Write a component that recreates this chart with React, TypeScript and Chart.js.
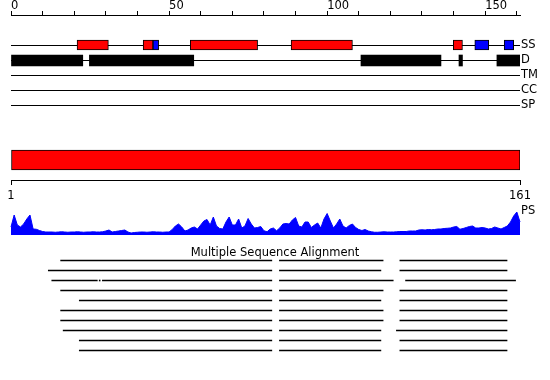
import React, { useEffect, useRef } from 'react';
import { Chart, registerables } from 'chart.js';

Chart.register(...registerables);

// ---------- data ----------
const SEQ_LENGTH = 161;
const TOP_TICKS = [0, 10, 20, 30, 40, 50, 60, 70, 80, 90, 100, 110, 120, 130, 140, 150, 160];
const TOP_LABELS = [0, 50, 100, 150];
const RANGE_LABELS = ['1', '161'];
const TRACKS = ['SS', 'D', 'TM', 'CC', 'SP'];
const PROFILE_LABEL = 'PS';
const MSA_TITLE = 'Multiple Sequence Alignment';

// secondary structure: helix (red) and strand (blue) ranges
const HELIX = [[20.9, 30.8], [41.8, 44.9], [56.7, 78.0], [88.6, 108.0], [139.9, 142.8]];
const STRAND = [[44.9, 46.7], [146.7, 151.1], [156.0, 159.0]];
// disorder ranges
const DISORDER = [[0, 22.7], [24.8, 57.8], [110.7, 136.0], [141.7, 142.8], [153.7, 161]];
// domain ranges
const DOMAINS = [[0, 161]];

// PS profile, one value per position 0..162
const PS_VALUES = [
  0.32, 0.80, 0.40, 0.32, 0.44, 0.64, 0.80, 0.24, 0.23, 0.18, 0.14, 0.12, 0.12,
  0.12, 0.11, 0.12, 0.13, 0.12, 0.11, 0.12, 0.12, 0.13, 0.12, 0.11, 0.12, 0.12, 0.13, 0.12, 0.12, 0.13,
  0.16, 0.20, 0.12, 0.14, 0.16, 0.18, 0.20, 0.12, 0.08,
  0.10, 0.11, 0.12, 0.12, 0.11, 0.12, 0.13, 0.12, 0.12, 0.11, 0.12,
  0.12, 0.22, 0.36, 0.44, 0.32, 0.16, 0.20, 0.28, 0.32, 0.24,
  0.40, 0.56, 0.62, 0.40, 0.72, 0.36, 0.26, 0.24, 0.52, 0.72,
  0.40, 0.40, 0.64, 0.28, 0.36, 0.66, 0.44, 0.28, 0.30, 0.34,
  0.17, 0.13, 0.24, 0.28, 0.17, 0.28, 0.44, 0.46, 0.44, 0.60,
  0.70, 0.36, 0.32, 0.52, 0.52, 0.30, 0.40, 0.48, 0.28, 0.64,
  0.86, 0.56, 0.28, 0.44, 0.64, 0.36, 0.28, 0.38, 0.44, 0.30,
  0.22, 0.18, 0.22, 0.16, 0.13, 0.11, 0.11, 0.12, 0.13, 0.12,
  0.12, 0.12, 0.13, 0.14, 0.14, 0.14, 0.16, 0.16, 0.16, 0.20,
  0.21, 0.20, 0.22, 0.21, 0.22, 0.24, 0.24, 0.26, 0.27, 0.28,
  0.32, 0.34, 0.23, 0.26, 0.30, 0.34, 0.36, 0.28, 0.28, 0.30,
  0.28, 0.24, 0.26, 0.32, 0.28, 0.24, 0.30, 0.36, 0.52, 0.76,
  0.92, 0.52, 0.06,
];

// multiple sequence alignment: aligned segments per row
const MSA_ROWS = [
  [[15.7, 82.5], [84.9, 117.7], [123.0, 156.9]],
  [[11.8, 82.5], [84.9, 117.0], [123.0, 156.9]],
  [[12.9, 27.3], [27.9, 28.2], [28.9, 82.5], [84.9, 120.9], [124.8, 159.6]],
  [[15.7, 82.5], [84.9, 117.7], [123.0, 156.9]],
  [[21.6, 82.5], [84.9, 117.0], [123.0, 156.9]],
  [[15.7, 82.5], [84.9, 117.7], [123.0, 156.9]],
  [[15.7, 82.5], [84.9, 117.7], [123.0, 156.9]],
  [[16.5, 82.5], [84.9, 117.0], [121.9, 156.9]],
  [[21.6, 82.5], [84.9, 117.0], [123.0, 156.9]],
  [[21.6, 82.5], [84.9, 117.0], [123.0, 156.9]],
];

// ---------- layout (y units of the track scale, 5px each) ----------
const TRACK_MAX = 73;
const ROW_Y: Record<string, number> = { SS: 6, D: 9, TM: 12, CC: 15, SP: 18 };
const D_BAR_Y = 9.1;
const DOMAIN_Y = 29;
const RANGE_AXIS_Y = 33;
const PS_LABEL_Y = 39.2;
const MSA_TITLE_Y = 44.6;
const MSA_Y0 = 49.1;
const MSA_STEP = 2;
const TITLE_X = 83.5;

const RED = '#ff0000';
const BLUE = '#0000ff';
const BLACK = '#000000';

function rangeBars(label: string, ranges: number[][], y: number, color: string, thickness: number, border: number) {
  return {
    type: 'bar' as const,
    label,
    indexAxis: 'y' as const,
    grouped: false,
    xAxisID: 'x',
    yAxisID: 'y',
    data: ranges.map(([a, b]) => ({ x: [a, b], y })),
    backgroundColor: color,
    borderColor: BLACK,
    borderWidth: border,
    borderSkipped: false,
    barThickness: thickness,
  };
}

const noPad = (s: any) => {
  s.paddingTop = 0;
  s.paddingBottom = 0;
  s.paddingLeft = 0;
  s.paddingRight = 0;
};

export default function App() {
  const ref = useRef<HTMLCanvasElement | null>(null);

  useEffect(() => {
    if (!ref.current) return;
    Chart.defaults.font.family = "'DejaVu Sans', sans-serif";
    Chart.defaults.font.size = 11.5;
    Chart.defaults.color = BLACK;

    const msaData: any[] = [];
    MSA_ROWS.forEach((row, i) => {
      row.forEach(([a, b]) => msaData.push({ x: [a, b], y: MSA_Y0 + i * MSA_STEP }));
    });

    const labelsRight = [...TRACKS, PROFILE_LABEL];

    const chart = new Chart(ref.current, {
      type: 'bar',
      data: {
        datasets: [
          rangeBars('Helix', HELIX, ROW_Y.SS, RED, 10, 1),
          rangeBars('Strand', STRAND, ROW_Y.SS, BLUE, 10, 1),
          rangeBars('Disorder', DISORDER, D_BAR_Y, BLACK, 11, 0),
          rangeBars('Domain', DOMAINS, DOMAIN_Y, RED, 20, 1),
          {
            type: 'bar',
            label: 'MSA',
            indexAxis: 'y',
            grouped: false,
            xAxisID: 'x',
            yAxisID: 'y',
            data: msaData,
            backgroundColor: BLACK,
            borderWidth: 0,
            barThickness: 1,
          } as any,
          {
            type: 'line',
            label: PROFILE_LABEL,
            xAxisID: 'x',
            yAxisID: 'yPS',
            data: PS_VALUES.map((v, i) => ({ x: i, y: v })),
            borderColor: BLUE,
            backgroundColor: BLUE,
            borderWidth: 1,
            pointRadius: 0,
            tension: 0,
            fill: 'origin',
            clip: false,
          } as any,
        ],
      },
      options: {
        responsive: false,
        animation: false,
        layout: { padding: { left: 11, right: 0, top: 0, bottom: 0 } },
        plugins: { legend: { display: false }, tooltip: { enabled: false }, title: { display: false } },
        scales: {
          x: {
            type: 'linear',
            axis: 'x',
            position: 'top',
            min: 0,
            max: SEQ_LENGTH,
            offset: false,
            afterBuildTicks: (s: any) => { s.ticks = TOP_TICKS.map((v) => ({ value: v })); },
            afterFit: (s: any) => { s.height = 15; noPad(s); },
            grid: { drawOnChartArea: false, drawTicks: true, tickLength: 4, color: BLACK, offset: false },
            border: { display: true, color: BLACK, width: 1 },
            ticks: {
              autoSkip: false, maxRotation: 0, minRotation: 0, align: 'start', padding: -2, color: BLACK,
              callback: (v: any) => (TOP_LABELS.includes(Number(v)) ? String(v) : ''),
            },
          },
          x2: {
            type: 'linear',
            axis: 'x',
            position: { y: RANGE_AXIS_Y },
            min: 0,
            max: SEQ_LENGTH,
            offset: false,
            afterBuildTicks: (s: any) => { s.ticks = [{ value: 0 }, { value: SEQ_LENGTH }]; },
            afterFit: noPad,
            grid: { drawOnChartArea: false, drawTicks: true, tickLength: 4, color: BLACK, offset: false },
            border: { display: true, color: BLACK, width: 1 },
            ticks: {
              autoSkip: false, maxRotation: 0, minRotation: 0, padding: 5, color: BLACK,
              callback: (_v: any, i: number) => RANGE_LABELS[i],
            },
          },
          xT: {
            type: 'linear',
            axis: 'x',
            position: { y: MSA_TITLE_Y },
            min: 0,
            max: SEQ_LENGTH,
            offset: false,
            afterBuildTicks: (s: any) => { s.ticks = [{ value: TITLE_X }]; },
            afterFit: noPad,
            grid: { display: false, offset: false },
            border: { display: false },
            ticks: {
              autoSkip: false, maxRotation: 0, minRotation: 0, padding: 0, color: BLACK,
              callback: () => MSA_TITLE,
            },
          },
          y: {
            type: 'linear',
            axis: 'y',
            display: false,
            reverse: true,
            min: 0,
            max: TRACK_MAX,
            offset: false,
            afterFit: noPad,
            grid: { offset: false },
          },
          yLab: {
            type: 'linear',
            axis: 'y',
            position: 'right',
            reverse: true,
            min: 0,
            max: TRACK_MAX,
            offset: false,
            afterBuildTicks: (s: any) => {
              s.ticks = [...TRACKS.map((t) => ({ value: ROW_Y[t] })), { value: PS_LABEL_Y }];
            },
            afterFit: (s: any) => { s.width = 30; noPad(s); },
            grid: {
              drawOnChartArea: true,
              drawTicks: false,
              offset: false,
              lineWidth: 1,
              color: (ctx: any) => (ctx.index < TRACKS.length ? BLACK : 'rgba(0,0,0,0)'),
            },
            border: { display: false },
            ticks: {
              autoSkip: false, padding: 1, color: BLACK,
              callback: (_v: any, i: number) => labelsRight[i],
            },
          },
          yPS: {
            type: 'linear',
            axis: 'y',
            display: false,
            min: -5.8,
            max: 8.8,
            offset: false,
            afterFit: noPad,
            grid: { offset: false },
          },
        } as any,
      },
    } as any);

    return () => chart.destroy();
  }, []);

  return (
    <div style={{ position: 'absolute', left: 0, top: 0, width: 550, height: 380, background: '#fff' }}>
      <canvas ref={ref} width={550} height={380} style={{ display: 'block' }} />
    </div>
  );
}
